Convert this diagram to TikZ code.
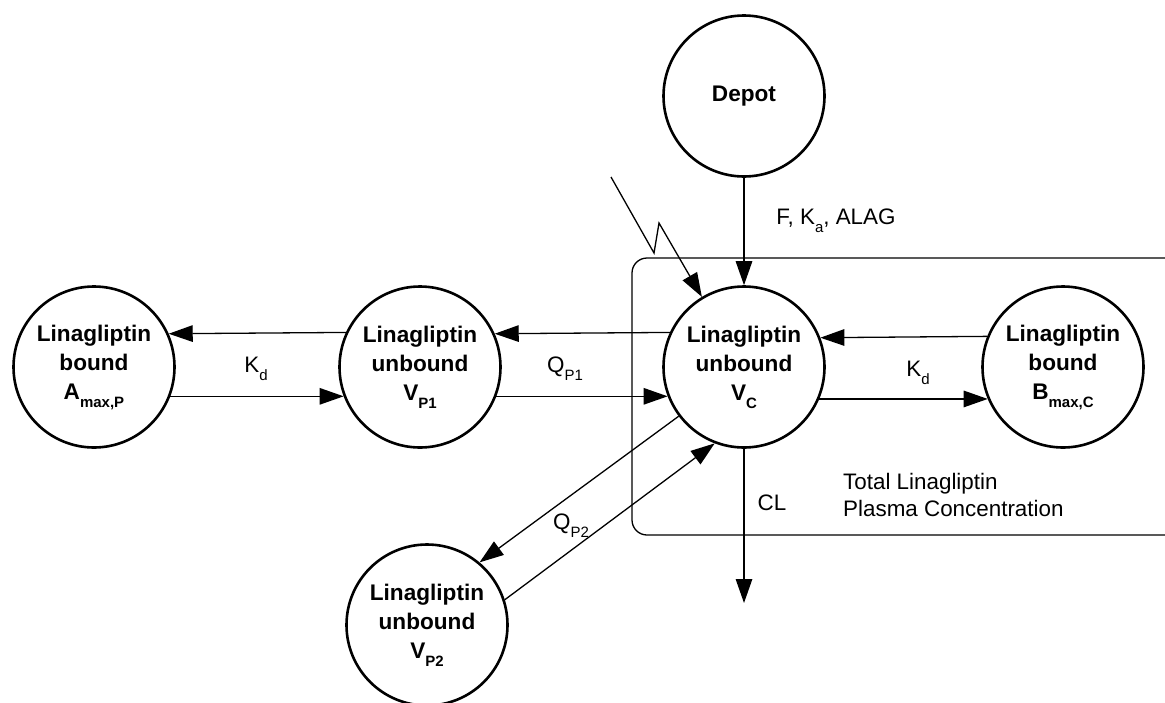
\documentclass[tikz,border=0pt]{standalone}
\usepackage{fontspec}
\setmainfont{Liberation Sans}
\usetikzlibrary{arrows.meta}
\newcommand\sbb[1]{\raisebox{-8pt}{\fontsize{15}{15}\selectfont #1}}
\newcommand\sbr[1]{\raisebox{-8pt}{\fontsize{15}{15}\selectfont #1}}
\begin{document}
\begin{tikzpicture}[x=1pt,y=-1pt,
  comp/.style={draw, circle, line width=2.6pt, minimum size=161pt, inner sep=0pt,
    align=center, font=\fontsize{22.6}{29}\selectfont\bfseries},
  flow/.style={line width=1.3pt, -{Triangle[length=24pt,width=16.5pt]}},
  lbl/.style={font=\fontsize{22.4}{27}\selectfont, inner sep=0pt},
  frame/.style={line width=1.3pt, rounded corners=15pt}]
\useasboundingbox (0,0) rectangle (1165,702);

% compartments
\node[comp] (dep) at (744,96) {Depot};
\node[comp] (vc)  at (744,367) {Linagliptin\\unbound\\V\sbb{C}};
\node[comp] (vp1) at (420,367) {Linagliptin\\unbound\\V\sbb{P1}};
\node[comp] (amp) at (94,367)  {Linagliptin\\bound\\A\sbb{max,P}};
\node[comp] (bmc) at (1063,367) {Linagliptin\\bound\\B\sbb{max,C}};
\node[comp] (vp2) at (427,625) {Linagliptin\\unbound\\V\sbb{P2}};

% plasma frame
\draw[frame] (1172,258) -- (632,258) -- (632,535) -- (1172,535);

% connectors
\draw[flow] (dep.south) -- (vc.north);
\draw[flow] (vp1.155.4) -- (amp.24.6);
\draw[flow] (amp.-21.9) -- (vp1.201.9);
\draw[flow] (vc.155.4) -- (vp1.24.6);
\draw[flow] (vp1.-21.9) -- (vc.201.9);
\draw[flow] (bmc.158.5) -- (vc.21.5);
\draw[flow] (vc.-23.8) -- (bmc.203.8);
\draw[flow] (vc.217.5) -- (vp2.50);
\draw[flow] (vp2.18.2) -- (vc.249.8);

\coordinate (zs) at (611,177);
\coordinate (z1) at (654,253);
\coordinate (z2) at (659,223);
\draw[flow] (zs) -- (z1) -- (z2) -- (vc.121);

\coordinate (clend) at (744,603);
\draw[flow] (vc.south) -- (clend);

% labels
\node[lbl, anchor=base] (lfka) at (836,224) {F, K\sbr{a}, ALAG};
\node[lbl, anchor=base] (lkd1) at (256,372) {K\sbr{d}};
\node[lbl, anchor=base] (lqp1) at (565,372) {Q\sbr{P1}};
\node[lbl, anchor=base] (lkd2) at (918,376) {K\sbr{d}};
\node[lbl, anchor=base] (lqp2) at (571,529) {Q\sbr{P2}};
\node[lbl, anchor=base] (lcl)  at (772,510) {CL};
\node[lbl, anchor=base west] (ltot1) at (843,489) {Total Linagliptin};
\node[lbl, anchor=base west] (ltot2) at (843,516) {Plasma Concentration};
\end{tikzpicture}
\end{document}
